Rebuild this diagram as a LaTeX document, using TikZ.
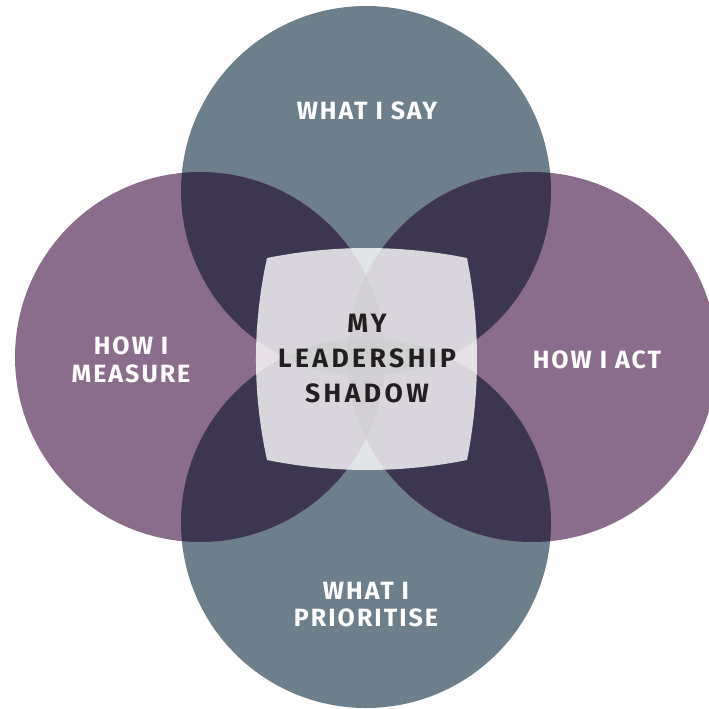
\documentclass[tikz,border=0pt]{standalone}
\usepackage{fontspec}
\setmainfont{Fira Sans}
\definecolor{slate}{HTML}{6E7F8C}
\definecolor{plum}{HTML}{8A6D8B}
\definecolor{pairdark}{HTML}{3C3650}
\definecolor{slatesq}{HTML}{2F3F4D}
\definecolor{plumsq}{HTML}{4B2F4C}
\definecolor{tripA}{HTML}{201729}
\definecolor{tripB}{HTML}{191B2A}
\definecolor{quad}{HTML}{0E0C17}
\definecolor{ink}{HTML}{231F20}
\newcommand\circR{185pt}
\tikzset{
  outerlabel/.style={text=white, align=center, font={\fontsize{25}{27.5}\selectfont\bfseries\addfontfeatures{LetterSpace=8}}},
  centrelabel/.style={text=ink, align=center, font={\fontsize{26.5}{35}\selectfont\bfseries\addfontfeatures{LetterSpace=13}}}
}
\begin{document}
\begin{tikzpicture}[x=1pt,y=-1pt]
\useasboundingbox (0,0) rectangle (709,709);
\coordinate (T) at (366,191);
\coordinate (B) at (366,523);
\coordinate (L) at (200,357);
\coordinate (R) at (532,357);
% circles
\fill[slate] (T) circle[radius=\circR];
\fill[slate] (B) circle[radius=\circR];
\fill[plum] (L) circle[radius=\circR];
\fill[plum] (R) circle[radius=\circR];
% pairwise overlaps
\begin{scope}\clip (T) circle[radius=\circR]; \fill[pairdark] (L) circle[radius=\circR];\end{scope}
\begin{scope}\clip (T) circle[radius=\circR]; \fill[pairdark] (R) circle[radius=\circR];\end{scope}
\begin{scope}\clip (B) circle[radius=\circR]; \fill[pairdark] (L) circle[radius=\circR];\end{scope}
\begin{scope}\clip (B) circle[radius=\circR]; \fill[pairdark] (R) circle[radius=\circR];\end{scope}
\begin{scope}\clip (T) circle[radius=\circR]; \fill[slatesq] (B) circle[radius=\circR];\end{scope}
\begin{scope}\clip (L) circle[radius=\circR]; \fill[plumsq] (R) circle[radius=\circR];\end{scope}
% triple overlaps
\begin{scope}\clip (T) circle[radius=\circR]; \clip (L) circle[radius=\circR]; \fill[tripA] (R) circle[radius=\circR];\end{scope}
\begin{scope}\clip (B) circle[radius=\circR]; \clip (L) circle[radius=\circR]; \fill[tripA] (R) circle[radius=\circR];\end{scope}
\begin{scope}\clip (T) circle[radius=\circR]; \clip (B) circle[radius=\circR]; \fill[tripB] (L) circle[radius=\circR];\end{scope}
\begin{scope}\clip (T) circle[radius=\circR]; \clip (B) circle[radius=\circR]; \fill[tripB] (R) circle[radius=\circR];\end{scope}
\begin{scope}\clip (T) circle[radius=\circR]; \clip (B) circle[radius=\circR]; \clip (L) circle[radius=\circR]; \fill[quad] (R) circle[radius=\circR];\end{scope}
% central cushion
\fill[white, fill opacity=0.8] (267,258) .. controls (333,244.7) and (401,244.7) .. (467,258)
  .. controls (480.3,325) and (480.3,393) .. (467,460)
  .. controls (401,473.3) and (333,473.3) .. (267,460)
  .. controls (252.3,393) and (252.3,325) .. (267,258) -- cycle;
% labels
\node[outerlabel] (say) at (367,111) {WHAT I SAY};
\node[outerlabel] (measure) at (131,360) {HOW I\\MEASURE};
\node[outerlabel] (act) at (597,360) {HOW I ACT};
\node[outerlabel] (prioritise) at (366,604.5) {WHAT I\\PRIORITISE};
\node[centrelabel] (shadow) at (367,358.5) {MY\\LEADERSHIP\\SHADOW};
\end{tikzpicture}
\end{document}
